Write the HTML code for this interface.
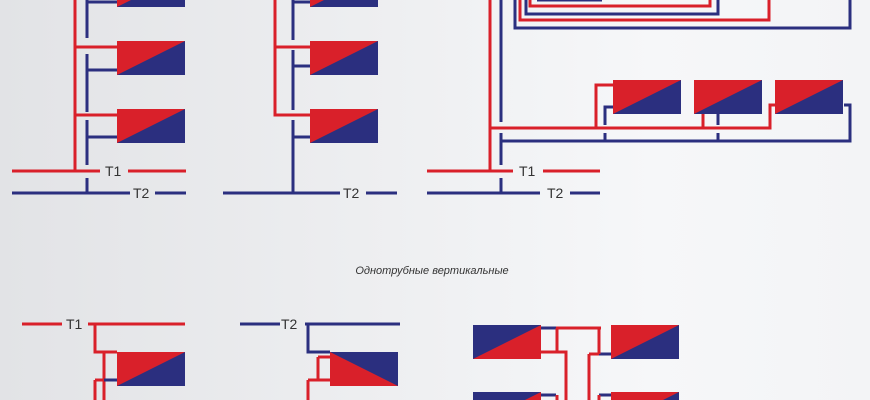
<!DOCTYPE html>
<html><head><meta charset="utf-8"><style>
html,body{margin:0;padding:0;width:870px;height:400px;overflow:hidden}
body{background:linear-gradient(90deg,#e2e3e6 0%,#eeeff1 45%,#f6f7f9 75%,#f3f4f6 100%)}
svg{display:block}
text{font-family:"Liberation Sans",sans-serif;fill:#333}
</style></head><body>
<svg width="870" height="400" viewBox="0 0 870 400" xmlns="http://www.w3.org/2000/svg">
<defs>
<g id="rad"><rect x="0" y="0" width="68" height="34" fill="#2b2f7f"/><polygon points="0,0 68,0 0,34" fill="#d9202a"/></g>
<g id="radB"><rect x="0" y="0" width="68" height="34" fill="#d9202a"/><polygon points="0,0 68,0 0,34" fill="#2b2f7f"/></g>
<g id="radC"><rect x="0" y="0" width="68" height="34" fill="#2b2f7f"/><polygon points="0,0 68,34 0,34" fill="#d9202a"/></g>
</defs>
<g fill="none" stroke-width="3">
<g stroke="#d9202a">
<path d="M75 0V171M75 47H117M75 115H117M12 171H100M128 171H186"/>
</g>
<g stroke="#2b2f7f">
<path d="M87 0V38M87 54V112M87 120V165M87 178V193M87 2H117M87 70H117M87 137H117M12 193H130M155 193H186"/>
</g>
<g stroke="#d9202a"><path d="M275 0V115H310M275 47H310"/></g>
<g stroke="#2b2f7f"><path d="M293 0V40M293 50V110M293 120V193M293 2H310M293 66H310M293 137H310M223 193H340M366 193H397"/></g>
<g stroke="#d9202a"><path d="M490 0V171M490 128H770V105H775M596 128V85H613M703 128V114M427 171H513M543 171H600M520 0V20H769V0M530 0V6H710V0"/></g>
<g stroke="#2b2f7f"><path d="M501 0V122M501 133V165M501 178V193M501 141H850V105H844M605 141V133M605 125V107H613M718 141V133M718 125V114M427 193H540M570 193H600M515 0V28H850V0M526 0V14H718V0M537 0H602"/></g>
<g stroke="#d9202a"><path d="M22 324H62M88 324H185M95 324V352H117M104 352V380M95 380H104M95 380V400M104 380V400"/></g>
<g stroke="#2b2f7f"><path d="M104 380H117"/></g>
<g stroke="#2b2f7f"><path d="M240 324H280M305 324H400M308 324V352H330"/></g>
<g stroke="#d9202a"><path d="M318 357V380M318 357H330M308 380H330M308 380V400"/></g>
<g stroke="#2b2f7f"><path d="M541 328H556M599 354H611M541 395H556M599 395H611"/></g>
<g stroke="#d9202a"><path d="M556 328H601M557 328V352M599 328V354M541 352H566V400M589 354H599M589 354V400M557 395V400M599 395V400"/></g>
</g>
<use href="#rad" x="117" y="-27"/>
<use href="#rad" x="117" y="41"/>
<use href="#rad" x="117" y="109"/>
<use href="#rad" x="310" y="-27"/>
<use href="#rad" x="310" y="41"/>
<use href="#rad" x="310" y="109"/>
<use href="#rad" x="613" y="80"/>
<use href="#rad" x="694" y="80"/>
<use href="#rad" x="775" y="80"/>
<use href="#rad" x="117" y="352"/>
<use href="#radC" x="330" y="352"/>
<use href="#radB" x="473" y="325"/>
<use href="#rad" x="611" y="325"/>
<use href="#radB" x="473" y="392"/>
<use href="#rad" x="611" y="392"/>
<g font-size="14">
<text x="105" y="176">T1</text>
<text x="133" y="198">T2</text>
<text x="343" y="198">T2</text>
<text x="519" y="176">T1</text>
<text x="547" y="198">T2</text>
<text x="66" y="329">T1</text>
<text x="281" y="329">T2</text>
</g>
<text x="432" y="274" font-size="11" font-style="italic" text-anchor="middle">Однотрубные вертикальные</text>
</svg>
</body></html>
